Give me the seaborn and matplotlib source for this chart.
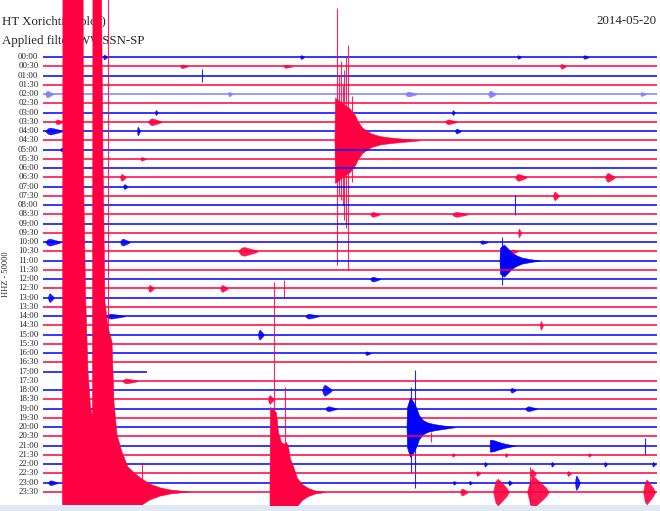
import matplotlib
matplotlib.use("Agg")
import numpy as np
import pandas as pd
import matplotlib.pyplot as plt
import seaborn as sns
from matplotlib.transforms import blended_transform_factory
from matplotlib.patches import Rectangle

# ---------------- data ----------------
station = "HT Xorichti (Volos)"
filter_label = "Applied filter: WWSSN-SP"
date_label = "2014-05-20"
channel_label = "HHZ - 50000"

row_labels = ["00:00", "00:30", "01:00", "01:30", "02:00", "02:30", "03:00", "03:30",
              "04:00", "04:30", "05:00", "05:30", "06:00", "06:30", "07:00", "07:30",
              "08:00", "08:30", "09:00", "09:30", "10:00", "10:30", "11:00", "11:30",
              "12:00", "12:30", "13:00", "13:30", "14:00", "14:30", "15:00", "15:30",
              "16:00", "16:30", "17:00", "17:30", "18:00", "18:30", "19:00", "19:30",
              "20:00", "20:30", "21:00", "21:30", "22:00", "22:30", "23:00", "23:30"]

# minutes within each 30-min line where recorded data starts / ends (data gap 17:05-17:31)
trace_start = [0.0] * 35 + [0.98] + [0.0] * 12
trace_end = [30.0] * 34 + [5.08] + [30.0] * 13

# large events: row, envelope times (minutes) and envelope amplitudes (row spacings)
quake_rows = [47, 47, 9, 40, 22, 42]
quake_t = [
    [0.953, 0.977, 1.954, 1.979, 2.077, 2.199, 2.321, 2.419, 2.443, 2.834, 2.932, 3.029,
     3.176, 3.371, 3.469, 3.616, 3.860, 4.153, 4.495, 4.837, 5.228, 5.717, 6.205, 6.694,
     7.183],
    [11.067, 11.091, 11.384, 11.482, 11.628, 11.775, 11.873, 11.971, 12.068, 12.215,
     12.410, 12.655, 12.948, 13.290, 13.779],
    [14.243, 14.267, 14.462, 14.609, 14.756, 15.000, 15.244, 15.391, 15.586, 15.830,
     16.075, 16.466, 16.954, 17.443, 17.932, 18.420],
    [17.761, 17.785, 17.932, 18.078, 18.225, 18.371, 18.567, 18.811, 19.153, 19.642, 20.130],
    [22.305, 22.329, 22.524, 22.720, 22.915, 23.160, 23.404, 23.795, 24.283],
    [21.817, 21.841, 22.036, 22.231, 22.476, 22.818, 23.062],
]
quake_amp = [
    [0.0, 60.0, 60.0, 34.6, 21.6, 13.0, 9.2, 8.1, 60.0, 60.0, 35.7, 20.5,
     17.8, 16.2, 9.7, 6.2, 4.3, 2.7, 2.0, 1.4, 0.85, 0.45, 0.22, 0.1,
     0.0],
    [0.0, 9.2, 8.6, 6.5, 5.4, 5.2, 5.4, 4.9, 3.6, 2.8,
     1.5, 0.86, 0.43, 0.16, 0.0],
    [0.0, 4.6, 4.3, 4.0, 3.8, 3.4, 2.7, 2.0, 1.4, 1.0,
     0.7, 0.45, 0.3, 0.2, 0.1, 0.0],
    [0.0, 2.16, 3.2, 2.8, 2.16, 1.3, 0.76, 0.49, 0.32, 0.16, 0.0],
    [0.0, 1.4, 1.73, 1.3, 0.86, 0.54, 0.32, 0.16, 0.0],
    [0.0, 0.65, 0.59, 0.43, 0.27, 0.11, 0.0],
]

# single large swings: row, time (min), excursion up / down (row spacings)
spike_row = [47, 47, 47, 47, 9, 9, 9, 9, 9, 9, 9, 9, 40, 40, 22, 25, 42, 47, 2, 16, 41]
spike_t = [3.176, 4.837, 11.301, 11.824, 14.365, 14.560, 14.707, 14.902, 14.46, 14.66,
           14.80, 15.10, 18.176, 17.981, 22.427, 11.78, 29.41, 23.80, 7.77, 23.06, 18.96]
spike_up = [60.0, 3.2, 22.7, 11.3, 14.3, 8.6, 7.6, 10.3, 7.0, 6.0, 9.0, 4.8, 6.2, 4.3,
            2.6, 0.86, 0.86, 2.7, 0.65, 1.08, 0.43]
spike_down = [60.0, 1.4, 1.4, 1.4, 13.5, 6.5, 8.6, 14.0, 6.0, 7.0, 9.5, 4.5, 6.6, 4.9,
              2.6, 1.08, 0.97, 1.4, 0.65, 1.08, 0.65]

# small bursts: row, onset (min), amplitude (row spacings), duration (min)
burst_row = [0, 0, 0, 0, 1, 1, 1, 4, 4, 4, 4, 4, 6, 6, 7, 7, 7, 8, 8, 8, 10, 11,
             13, 13, 13, 14, 15, 17, 17, 19, 20, 20, 20, 21, 21, 24, 25, 25, 26,
             28, 28, 29, 30, 32, 35, 36, 36, 37, 38, 38, 43, 43, 43, 44, 44, 44, 44,
             45, 45, 45, 46, 46, 46, 46, 46, 47, 47, 47, 47]
burst_t = [2.93, 12.56, 23.16, 26.38, 6.69, 11.73, 25.26, 0.10, 9.04, 17.69, 21.74, 29.17,
           5.47, 19.98, 0.59, 5.13, 19.64, 0.10, 4.59, 20.13, 0.83, 4.74,
           3.76, 23.06, 27.46, 3.91, 24.92, 15.98, 19.98, 23.21, 0.10, 3.76, 21.35,
           9.53, 22.82, 15.98, 5.13, 8.65, 0.24,
           3.03, 12.80, 24.28, 10.50, 15.73, 3.86, 13.63, 22.82, 10.99, 13.78, 23.55,
           19.98, 22.57, 26.63, 21.55, 24.82, 27.41, 29.76,
           21.16, 23.80, 25.60, 0.24, 20.03, 20.81, 22.72, 25.99, 20.37, 21.99, 23.65, 29.32]
burst_amp = [0.27, 0.22, 0.2, 0.2, 0.2, 0.16, 0.27, 0.38, 0.27, 0.27, 0.38, 0.22,
             0.27, 0.27, 0.27, 0.38, 0.27, 0.38, 0.48, 0.27, 0.2, 0.2,
             0.38, 0.38, 0.48, 0.27, 0.48, 0.27, 0.27, 0.48, 0.38, 0.38, 0.2,
             0.48, 0.22, 0.27, 0.38, 0.38, 0.48,
             0.27, 0.27, 0.48, 0.55, 0.2, 0.27, 0.6, 0.27, 0.48, 0.27, 0.27,
             0.2, 0.22, 0.2, 0.27, 0.27, 0.27, 0.27,
             0.27, 0.48, 0.27, 0.27, 0.22, 0.22, 0.27, 0.8, 0.38, 1.45, 1.7, 1.35]
burst_dur = [0.20, 0.20, 0.20, 0.29, 0.39, 0.49, 0.29, 0.39, 0.20, 0.59, 0.39, 0.29,
             0.15, 0.15, 0.39, 0.68, 0.59, 0.88, 0.15, 0.29, 0.29, 0.29,
             0.29, 0.59, 0.49, 0.24, 0.29, 0.49, 0.78, 0.15, 0.78, 0.49, 0.39,
             0.98, 0.39, 0.49, 0.29, 0.39, 0.29,
             0.98, 0.68, 0.15, 0.29, 0.29, 0.78, 0.49, 0.29, 0.29, 0.59, 0.59,
             0.15, 0.15, 0.15, 0.15, 0.15, 0.15, 0.15,
             0.20, 0.29, 0.20, 0.49, 0.15, 0.15, 0.20, 0.24, 0.39, 0.78, 1.07, 0.59]

# ---------------- style / layout ----------------
BLUE = "#0000ff"
RED = "#ff0040"
LIGHT_BLUE = "#7f7fff"
W, H = 660, 511

sns.set_style("white")
plt.rcParams["font.family"] = ["Liberation Serif", "DejaVu Serif"]

n_rows = len(row_labels)
row_color = [BLUE if i % 2 == 0 else RED for i in range(n_rows)]
row_color[4] = LIGHT_BLUE

fig = plt.figure(figsize=(W / 100, H / 100), dpi=100)
fig.patch.set_facecolor("white")
row_px = 9.255
ax = fig.add_axes([43 / W, 6 / H, 614 / W, 505 / H])
ax.set_xlim(0, 30)
ax.set_ylim(n_rows - 1 + (505 - 57 - (n_rows - 1) * row_px) / row_px, -57 / row_px)
ax.axis("off")
ax.patch.set_visible(False)


def z(row, k=0.0):
    return 2 + row * 0.02 + k


# baselines through seaborn
base = pd.DataFrame({
    "minute": [v for i in range(n_rows) for v in (trace_start[i], trace_end[i])],
    "row": [i for i in range(n_rows) for _ in (0, 1)],
    "trace": [row_labels[i] for i in range(n_rows) for _ in (0, 1)],
})
pal = {row_labels[i]: row_color[i] for i in range(n_rows)}
sns.lineplot(data=base, x="minute", y="row", hue="trace", hue_order=row_labels,
             palette=pal, units="trace", estimator=None, legend=False, sort=False,
             linewidth=1.1, ax=ax)
for ln in ax.lines:
    yd = ln.get_ydata()
    if len(yd):
        ln.set_zorder(z(int(round(yd[0]))))
        ln.set_solid_capstyle("butt")

# small bursts (spindle-shaped wave packets)
shape_x = np.array([0.0, 0.15, 0.3, 0.5, 0.7, 0.85, 1.0])
shape_a = np.array([0.0, 0.8, 1.0, 0.75, 0.5, 0.3, 0.0])
for r, t, a, d in zip(burst_row, burst_t, burst_amp, burst_dur):
    xs = t + shape_x * d
    aa = a * shape_a
    ax.fill_between(xs, r - aa, r + aa, color=row_color[r], lw=0.3,
                    edgecolor=row_color[r], alpha=0.9, zorder=z(r, 0.005))

# large events
for r, ts, amps in zip(quake_rows, quake_t, quake_amp):
    ts = np.asarray(ts)
    amps = np.asarray(amps)
    ax.fill_between(ts, r - amps, r + amps, color=row_color[r], lw=0.4,
                    edgecolor=row_color[r], zorder=z(r, 0.01))

# single swings
for r, t, up, dn in zip(spike_row, spike_t, spike_up, spike_down):
    ax.vlines(t, r - up, r + dn, color=row_color[r], lw=0.8, alpha=0.85,
              zorder=z(r, 0.01))

# texts (beneath the traces)
ax.text(2 / W, 1 - 24 / H, station, transform=fig.transFigure, fontsize=9.3,
        ha="left", va="baseline", clip_on=False, zorder=1)
ax.text(2 / W, 1 - 44 / H, filter_label, transform=fig.transFigure, fontsize=9.3,
        ha="left", va="baseline", clip_on=False, zorder=1)
ax.text(657 / W, 1 - 24 / H, date_label, transform=fig.transFigure, fontsize=9.3,
        ha="right", va="baseline", clip_on=False, zorder=1)
ax.text(6 / W, 1 - 274 / H, channel_label, transform=fig.transFigure, fontsize=6,
        rotation=90, ha="center", va="center", clip_on=False, zorder=1)

trans = blended_transform_factory(fig.transFigure, ax.transData)
for i, lab in enumerate(row_labels):
    ax.text(38.5 / W, i, lab, transform=trans, fontsize=6.3, ha="right",
            va="center", clip_on=False, zorder=1)

# thin light strip at the bottom edge
fig.patches.append(Rectangle((0, 0), 1, 6 / H, transform=fig.transFigure,
                             facecolor="#dfe8f3", edgecolor="none", zorder=-1))

fig.savefig("out.png", dpi=100, facecolor="white")
